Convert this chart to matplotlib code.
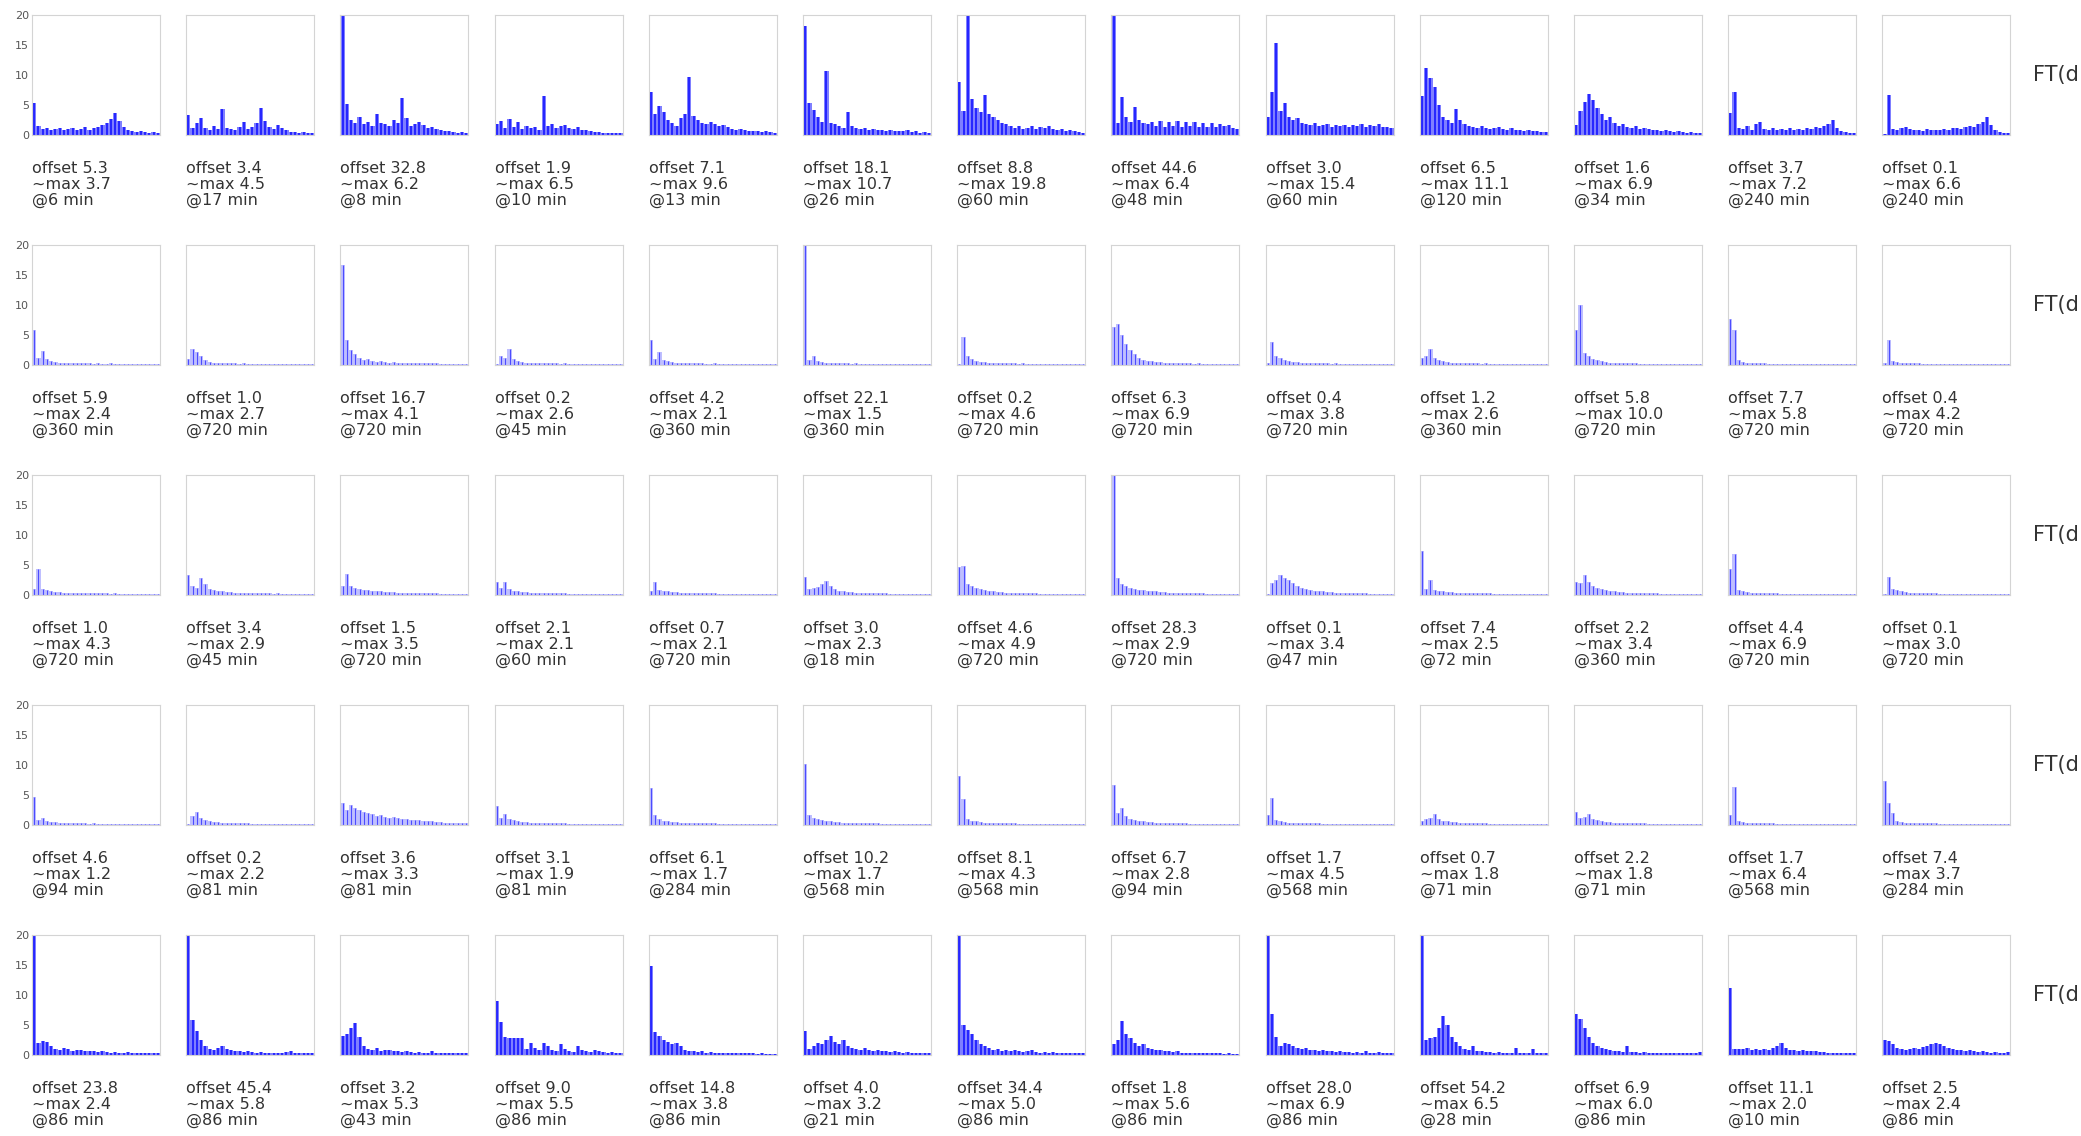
import matplotlib
matplotlib.use("Agg")
import matplotlib.pyplot as plt
import numpy as np

# label values per panel (rows x 13 columns)
offsets = [
    [5.3, 3.4, 32.8, 1.9, 7.1, 18.1, 8.8, 44.6, 3.0, 6.5, 1.6, 3.7, 0.1],
    [5.9, 1.0, 16.7, 0.2, 4.2, 22.1, 0.2, 6.3, 0.4, 1.2, 5.8, 7.7, 0.4],
    [1.0, 3.4, 1.5, 2.1, 0.7, 3.0, 4.6, 28.3, 0.1, 7.4, 2.2, 4.4, 0.1],
    [4.6, 0.2, 3.6, 3.1, 6.1, 10.2, 8.1, 6.7, 1.7, 0.7, 2.2, 1.7, 7.4],
    [23.8, 45.4, 3.2, 9.0, 14.8, 4.0, 34.4, 1.8, 28.0, 54.2, 6.9, 11.1, 2.5],
]
maxima = [
    [3.7, 4.5, 6.2, 6.5, 9.6, 10.7, 19.8, 6.4, 15.4, 11.1, 6.9, 7.2, 6.6],
    [2.4, 2.7, 4.1, 2.6, 2.1, 1.5, 4.6, 6.9, 3.8, 2.6, 10.0, 5.8, 4.2],
    [4.3, 2.9, 3.5, 2.1, 2.1, 2.3, 4.9, 2.9, 3.4, 2.5, 3.4, 6.9, 3.0],
    [1.2, 2.2, 3.3, 1.9, 1.7, 1.7, 4.3, 2.8, 4.5, 1.8, 1.8, 6.4, 3.7],
    [2.4, 5.8, 5.3, 5.5, 3.8, 3.2, 5.0, 5.6, 6.9, 6.5, 6.0, 2.0, 2.4],
]
periods = [
    [6, 17, 8, 10, 13, 26, 60, 48, 60, 120, 34, 240, 240],
    [360, 720, 720, 45, 360, 360, 720, 720, 720, 360, 720, 720, 720],
    [720, 45, 720, 60, 720, 18, 720, 720, 47, 72, 360, 720, 720],
    [94, 81, 81, 81, 284, 568, 568, 94, 568, 71, 71, 568, 284],
    [86, 86, 43, 86, 86, 21, 86, 86, 86, 28, 86, 10, 86],
]
row_labels = ["FT(d", "FT(d", "FT(d", "FT(d", "FT(d"]

# spectrum amplitudes (non-DC bins)
spec_r1 = [
    [1.5,1.0,1.2,0.9,1.0,1.1,0.8,1.0,1.2,0.9,1.0,1.3,0.9,1.1,1.4,1.6,2.0,2.6,3.7,2.4,1.3,0.9,0.6,0.5,0.6,0.5,0.4,0.5,0.4],
    [1.2,2.0,2.8,1.1,0.9,1.5,1.0,4.3,1.2,1.0,0.9,1.3,2.2,1.0,1.4,2.0,4.5,2.4,1.3,1.0,1.6,1.2,0.8,0.5,0.5,0.4,0.5,0.4,0.4],
    [5.2,2.5,2.0,3.0,1.8,2.2,1.5,3.5,2.0,1.8,1.5,2.5,2.0,6.2,2.8,1.5,1.8,2.2,1.6,1.2,1.4,1.0,0.8,0.6,0.6,0.5,0.4,0.5,0.4],
    [2.4,1.2,2.6,1.4,2.1,1.0,1.5,1.2,1.3,0.9,6.5,1.5,1.8,1.2,1.5,1.7,1.2,1.0,1.3,0.9,0.8,0.7,0.5,0.5,0.4,0.4,0.4,0.3,0.3],
    [3.5,4.9,3.8,2.5,2.0,1.5,2.8,3.5,9.6,3.2,2.5,2.0,1.8,2.2,1.8,1.5,1.6,1.3,1.0,0.9,1.0,0.8,0.6,0.7,0.6,0.5,0.6,0.5,0.4],
    [5.4,4.2,3.0,2.2,10.7,2.0,1.8,1.5,1.2,3.8,1.5,1.2,1.0,1.2,0.9,1.0,0.8,0.9,0.7,0.8,0.6,0.7,0.6,0.8,0.5,0.6,0.4,0.5,0.4],
    [4.0,19.8,6.0,4.5,3.8,6.7,3.5,3.0,2.5,2.0,1.8,1.5,1.2,1.5,1.0,1.2,1.5,1.0,1.3,1.1,1.5,1.0,0.8,1.0,0.7,0.8,0.6,0.5,0.4],
    [2.0,6.4,3.0,2.2,4.7,2.5,2.0,1.8,2.2,1.5,2.3,1.4,2.1,1.5,2.3,1.4,2.1,1.5,2.2,1.3,2.0,1.4,2.0,1.3,1.8,1.5,1.6,1.2,1.0],
    [7.2,15.4,4.0,5.3,3.0,2.5,2.8,2.0,1.8,1.6,2.0,1.5,1.6,1.8,1.4,1.6,1.5,1.7,1.4,1.6,1.5,1.8,1.4,1.6,1.5,1.8,1.3,1.4,1.2],
    [11.1,9.5,8.0,5.0,3.0,2.5,2.0,4.3,2.5,1.8,1.5,1.3,1.2,1.5,1.1,1.0,1.2,1.4,1.0,0.9,1.1,0.8,0.9,0.7,0.8,0.6,0.7,0.5,0.5],
    [4.0,5.5,6.9,5.8,4.5,3.5,2.5,3.0,2.0,1.5,1.8,1.3,1.2,1.5,1.0,1.2,1.0,0.9,0.8,0.7,0.8,0.6,0.5,0.6,0.5,0.4,0.5,0.4,0.4],
    [7.2,1.2,1.0,1.5,0.9,1.8,2.2,1.0,0.8,1.1,0.9,1.0,0.8,1.2,0.9,1.0,0.8,1.1,1.0,1.3,1.1,1.5,1.8,2.5,1.2,0.7,0.5,0.4,0.4],
    [6.6,1.0,0.8,1.2,1.4,1.0,0.8,0.9,0.7,1.0,0.8,0.9,0.8,1.0,0.9,1.1,1.2,1.0,1.3,1.5,1.4,1.8,2.2,3.0,1.6,0.8,0.5,0.4,0.3],
]
spec_r2 = [
    [1.2,2.4,1.0,0.7,0.5,0.4,0.4,0.3,0.3,0.3,0.3,0.3,0.3,0.2,0.3,0.2,0.2,0.3,0.2,0.2,0.2,0.2,0.2,0.2,0.2,0.2,0.2,0.2,0.2],
    [2.7,2.2,1.5,0.8,0.5,0.4,0.4,0.3,0.3,0.3,0.3,0.2,0.3,0.2,0.2,0.2,0.2,0.2,0.2,0.2,0.2,0.2,0.2,0.2,0.2,0.2,0.2,0.2,0.2],
    [4.1,2.5,1.8,1.2,0.8,1.0,0.7,0.5,0.6,0.5,0.4,0.5,0.4,0.4,0.3,0.4,0.3,0.3,0.3,0.3,0.3,0.3,0.2,0.2,0.2,0.2,0.2,0.2,0.2],
    [1.5,1.2,2.6,1.0,0.6,0.5,0.4,0.4,0.3,0.3,0.3,0.3,0.3,0.3,0.2,0.3,0.2,0.2,0.2,0.2,0.2,0.2,0.2,0.2,0.2,0.2,0.2,0.2,0.2],
    [1.0,2.1,0.8,0.6,0.5,0.4,0.4,0.3,0.3,0.3,0.3,0.3,0.2,0.2,0.3,0.2,0.2,0.2,0.2,0.2,0.2,0.2,0.2,0.2,0.2,0.2,0.2,0.2,0.2],
    [0.8,1.5,0.7,0.5,0.4,0.4,0.3,0.3,0.3,0.3,0.2,0.3,0.2,0.2,0.2,0.2,0.2,0.2,0.2,0.2,0.2,0.2,0.2,0.2,0.2,0.2,0.2,0.2,0.2],
    [4.6,1.5,1.0,0.7,0.5,0.5,0.4,0.4,0.3,0.3,0.3,0.3,0.3,0.2,0.3,0.2,0.2,0.2,0.2,0.2,0.2,0.2,0.2,0.2,0.2,0.2,0.2,0.2,0.2],
    [6.9,5.0,3.5,2.5,1.8,1.2,0.9,0.7,0.6,0.5,0.5,0.4,0.4,0.3,0.3,0.3,0.3,0.3,0.2,0.3,0.2,0.2,0.2,0.2,0.2,0.2,0.2,0.2,0.2],
    [3.8,1.5,1.2,0.8,0.6,0.5,0.5,0.4,0.4,0.3,0.3,0.3,0.3,0.3,0.2,0.3,0.2,0.2,0.2,0.2,0.2,0.2,0.2,0.2,0.2,0.2,0.2,0.2,0.2],
    [1.5,2.6,1.2,0.8,0.6,0.5,0.4,0.4,0.3,0.3,0.3,0.3,0.3,0.2,0.3,0.2,0.2,0.2,0.2,0.2,0.2,0.2,0.2,0.2,0.2,0.2,0.2,0.2,0.2],
    [10.0,2.0,1.5,1.0,0.8,0.6,0.5,0.4,0.4,0.3,0.3,0.3,0.3,0.3,0.2,0.2,0.2,0.2,0.2,0.2,0.2,0.2,0.2,0.2,0.2,0.2,0.2,0.2,0.2],
    [5.8,0.8,0.5,0.4,0.3,0.3,0.3,0.3,0.2,0.2,0.2,0.2,0.2,0.2,0.2,0.2,0.2,0.2,0.2,0.2,0.2,0.2,0.2,0.2,0.2,0.2,0.2,0.2,0.2],
    [4.2,0.7,0.5,0.4,0.3,0.3,0.3,0.3,0.2,0.2,0.2,0.2,0.2,0.2,0.2,0.2,0.2,0.2,0.2,0.2,0.2,0.2,0.2,0.2,0.2,0.2,0.2,0.2,0.2],
]
spec_r3 = [
    [4.3,1.0,0.8,0.6,0.5,0.5,0.4,0.4,0.3,0.4,0.3,0.3,0.3,0.3,0.3,0.3,0.3,0.2,0.3,0.2,0.2,0.2,0.2,0.2,0.2,0.2,0.2,0.2,0.2],
    [1.5,1.2,2.9,1.8,1.0,0.8,0.6,0.6,0.5,0.5,0.4,0.4,0.4,0.3,0.3,0.3,0.3,0.3,0.3,0.2,0.3,0.2,0.2,0.2,0.2,0.2,0.2,0.2,0.2],
    [3.5,1.5,1.2,1.0,0.9,0.8,0.7,0.6,0.6,0.5,0.5,0.5,0.4,0.4,0.4,0.3,0.3,0.3,0.3,0.3,0.3,0.3,0.2,0.2,0.2,0.2,0.2,0.2,0.2],
    [1.2,2.1,1.0,0.7,0.6,0.5,0.5,0.4,0.4,0.4,0.3,0.3,0.3,0.3,0.3,0.3,0.2,0.2,0.2,0.2,0.2,0.2,0.2,0.2,0.2,0.2,0.2,0.2,0.2],
    [2.1,0.8,0.7,0.6,0.5,0.5,0.4,0.4,0.4,0.3,0.3,0.3,0.3,0.3,0.3,0.2,0.2,0.2,0.2,0.2,0.2,0.2,0.2,0.2,0.2,0.2,0.2,0.2,0.2],
    [1.0,1.2,1.4,1.8,2.3,1.5,1.0,0.7,0.6,0.5,0.5,0.4,0.4,0.4,0.3,0.3,0.3,0.3,0.3,0.2,0.2,0.2,0.2,0.2,0.2,0.2,0.2,0.2,0.2],
    [4.9,1.8,1.5,1.2,1.0,0.8,0.7,0.6,0.5,0.5,0.4,0.4,0.4,0.3,0.3,0.3,0.3,0.3,0.2,0.2,0.2,0.2,0.2,0.2,0.2,0.2,0.2,0.2,0.2],
    [2.9,1.8,1.5,1.2,1.0,0.9,0.8,0.7,0.6,0.6,0.5,0.5,0.4,0.4,0.4,0.3,0.3,0.3,0.3,0.3,0.3,0.2,0.2,0.2,0.2,0.2,0.2,0.2,0.2],
    [2.0,2.5,3.4,2.8,2.5,2.0,1.5,1.2,1.0,0.8,0.7,0.6,0.6,0.5,0.5,0.4,0.4,0.4,0.3,0.3,0.3,0.3,0.3,0.2,0.2,0.2,0.2,0.2,0.2],
    [1.0,2.5,0.8,0.7,0.6,0.5,0.5,0.4,0.4,0.4,0.3,0.3,0.3,0.3,0.3,0.3,0.2,0.2,0.2,0.2,0.2,0.2,0.2,0.2,0.2,0.2,0.2,0.2,0.2],
    [2.0,3.4,2.2,1.5,1.2,1.0,0.8,0.7,0.6,0.5,0.5,0.4,0.4,0.4,0.3,0.3,0.3,0.3,0.3,0.2,0.2,0.2,0.2,0.2,0.2,0.2,0.2,0.2,0.2],
    [6.9,0.8,0.6,0.5,0.4,0.4,0.3,0.3,0.3,0.3,0.3,0.2,0.2,0.2,0.2,0.2,0.2,0.2,0.2,0.2,0.2,0.2,0.2,0.2,0.2,0.2,0.2,0.2,0.2],
    [3.0,1.0,0.8,0.6,0.5,0.4,0.4,0.3,0.3,0.3,0.3,0.3,0.2,0.2,0.2,0.2,0.2,0.2,0.2,0.2,0.2,0.2,0.2,0.2,0.2,0.2,0.2,0.2,0.2],
]
spec_r4 = [
    [0.8,1.2,0.7,0.5,0.5,0.4,0.4,0.3,0.3,0.3,0.3,0.3,0.2,0.3,0.2,0.2,0.2,0.2,0.2,0.2,0.2,0.2,0.2,0.2,0.2,0.2,0.2,0.2,0.2],
    [1.5,2.2,1.2,0.8,0.6,0.5,0.5,0.4,0.4,0.3,0.3,0.3,0.3,0.3,0.2,0.2,0.2,0.2,0.2,0.2,0.2,0.2,0.2,0.2,0.2,0.2,0.2,0.2,0.2],
    [2.5,3.3,2.8,2.5,2.2,2.0,1.8,1.5,1.6,1.4,1.2,1.3,1.1,1.0,1.0,0.9,0.8,0.8,0.7,0.6,0.6,0.5,0.5,0.4,0.4,0.4,0.3,0.3,0.3],
    [1.2,1.9,1.0,0.8,0.6,0.5,0.5,0.4,0.4,0.4,0.3,0.3,0.3,0.3,0.3,0.3,0.2,0.2,0.2,0.2,0.2,0.2,0.2,0.2,0.2,0.2,0.2,0.2,0.2],
    [1.7,1.0,0.7,0.6,0.5,0.5,0.4,0.4,0.4,0.3,0.3,0.3,0.3,0.3,0.3,0.2,0.2,0.2,0.2,0.2,0.2,0.2,0.2,0.2,0.2,0.2,0.2,0.2,0.2],
    [1.7,1.2,1.0,0.8,0.7,0.6,0.5,0.5,0.4,0.4,0.4,0.3,0.3,0.3,0.3,0.3,0.3,0.2,0.2,0.2,0.2,0.2,0.2,0.2,0.2,0.2,0.2,0.2,0.2],
    [4.3,1.0,0.7,0.6,0.5,0.4,0.4,0.4,0.3,0.3,0.3,0.3,0.3,0.2,0.2,0.2,0.2,0.2,0.2,0.2,0.2,0.2,0.2,0.2,0.2,0.2,0.2,0.2,0.2],
    [2.0,2.8,1.5,1.0,0.8,0.7,0.6,0.5,0.5,0.4,0.4,0.4,0.3,0.3,0.3,0.3,0.3,0.2,0.2,0.2,0.2,0.2,0.2,0.2,0.2,0.2,0.2,0.2,0.2],
    [4.5,0.8,0.6,0.5,0.4,0.4,0.4,0.3,0.3,0.3,0.3,0.3,0.2,0.2,0.2,0.2,0.2,0.2,0.2,0.2,0.2,0.2,0.2,0.2,0.2,0.2,0.2,0.2,0.2],
    [1.0,1.2,1.8,1.0,0.7,0.6,0.5,0.5,0.4,0.4,0.3,0.3,0.3,0.3,0.3,0.2,0.2,0.2,0.2,0.2,0.2,0.2,0.2,0.2,0.2,0.2,0.2,0.2,0.2],
    [1.2,1.4,1.8,1.0,0.8,0.6,0.5,0.5,0.4,0.4,0.4,0.3,0.3,0.3,0.3,0.3,0.2,0.2,0.2,0.2,0.2,0.2,0.2,0.2,0.2,0.2,0.2,0.2,0.2],
    [6.4,0.6,0.5,0.4,0.4,0.3,0.3,0.3,0.3,0.3,0.2,0.2,0.2,0.2,0.2,0.2,0.2,0.2,0.2,0.2,0.2,0.2,0.2,0.2,0.2,0.2,0.2,0.2,0.2],
    [3.7,2.0,0.7,0.5,0.4,0.4,0.4,0.3,0.3,0.3,0.3,0.3,0.2,0.2,0.2,0.2,0.2,0.2,0.2,0.2,0.2,0.2,0.2,0.2,0.2,0.2,0.2,0.2,0.2],
]
spec_r5 = [
    [2.0,2.4,2.2,1.5,1.0,0.8,1.2,1.0,0.7,0.9,0.8,0.6,0.7,0.6,0.5,0.6,0.5,0.4,0.5,0.4,0.4,0.5,0.3,0.4,0.3,0.4,0.3,0.3,0.4],
    [5.8,4.0,2.5,1.5,1.0,0.8,1.2,1.5,1.0,0.8,0.7,0.6,0.5,0.6,0.5,0.4,0.5,0.4,0.4,0.3,0.4,0.3,0.5,0.6,0.4,0.3,0.3,0.3,0.3],
    [3.5,4.5,5.3,3.0,1.5,1.0,0.8,1.2,0.7,0.9,0.8,0.6,0.7,0.5,0.6,0.5,0.4,0.5,0.4,0.4,0.6,0.4,0.3,0.4,0.3,0.3,0.3,0.3,0.3],
    [5.5,3.0,2.8,2.9,2.8,2.8,1.0,2.0,1.2,0.8,2.0,1.5,0.8,0.7,1.8,1.0,0.6,0.5,1.5,0.8,0.6,0.5,0.8,0.6,0.5,0.4,0.5,0.4,0.4],
    [3.8,3.2,2.5,2.2,1.8,2.0,1.5,0.8,0.6,0.7,0.5,0.6,0.4,0.5,0.4,0.4,0.3,0.4,0.3,0.3,0.3,0.3,0.3,0.3,0.2,0.3,0.2,0.2,0.2],
    [1.0,1.5,2.0,1.8,2.5,3.2,2.2,1.8,2.5,1.5,1.2,1.0,0.8,1.2,0.9,0.7,0.8,0.6,0.7,0.5,0.6,0.5,0.4,0.5,0.4,0.4,0.3,0.4,0.3],
    [5.0,4.2,3.5,2.5,1.8,1.5,1.2,0.8,1.0,0.7,0.8,0.6,0.9,0.7,0.5,0.6,0.8,0.5,0.4,0.5,0.4,0.5,0.4,0.3,0.4,0.3,0.3,0.3,0.3],
    [2.5,5.6,3.5,2.8,2.0,1.5,1.8,1.2,1.0,0.8,0.9,0.7,0.6,0.5,0.6,0.4,0.4,0.3,0.3,0.3,0.3,0.3,0.3,0.3,0.3,0.2,0.3,0.2,0.2],
    [6.9,3.0,1.5,2.0,1.8,1.5,1.2,1.0,1.1,0.8,0.9,0.7,0.8,0.6,0.7,0.5,0.6,0.5,0.5,0.4,0.5,0.4,0.6,0.4,0.4,0.5,0.3,0.4,0.3],
    [2.5,2.8,3.0,4.5,6.5,5.0,3.0,2.2,1.5,1.0,0.8,1.5,0.7,0.6,0.5,0.5,0.4,0.5,0.4,0.4,0.4,1.2,0.4,0.3,0.4,1.0,0.3,0.3,0.3],
    [6.0,4.5,3.0,2.0,1.5,1.2,1.0,0.8,0.7,0.6,0.5,1.5,0.5,0.5,0.4,0.5,0.4,0.4,0.3,0.4,0.3,0.3,0.4,0.3,0.3,0.3,0.3,0.3,0.5],
    [1.0,1.0,1.0,1.1,0.9,1.0,0.9,1.0,0.8,1.2,1.5,2.0,1.2,0.9,0.8,0.7,0.8,0.7,0.6,0.6,0.5,0.5,0.4,0.4,0.3,0.3,0.3,0.3,0.3],
    [2.4,1.8,1.2,1.0,0.9,1.0,1.2,1.0,1.3,1.5,1.8,2.0,1.8,1.5,1.2,1.0,0.9,0.8,0.7,0.8,0.6,0.5,0.6,0.5,0.4,0.5,0.4,0.4,0.5],
]
spectra = [spec_r1, spec_r2, spec_r3, spec_r4, spec_r5]

W, H = 2081, 1136
fig = plt.figure(figsize=(W / 100, H / 100), dpi=100)

x0, dx, aw = 32, 154.2, 128
y0, dy, ah = 15, 230, 120

for r in range(5):
    faint = r in (1, 2, 3)
    for c in range(13):
        left = (x0 + c * dx) / W
        bottom = 1 - (y0 + r * dy + ah) / H
        ax = fig.add_axes([left, bottom, aw / W, ah / H])
        vals = [offsets[r][c]] + spectra[r][c]
        xs = np.arange(len(vals))
        ax.bar(xs, vals, width=1.0, color="blue", alpha=0.25 if faint else 0.5, lw=0)
        ax.vlines(xs, 0, vals, color="blue", lw=0.8 if faint else 1.1,
                  alpha=0.6 if faint else 0.9)
        ax.set_xlim(-0.5, len(vals) - 0.5)
        ax.set_ylim(0, 20)
        for s in ax.spines.values():
            s.set_color("#d4d4d4")
            s.set_linewidth(0.8)
        ax.set_xticks([])
        if c == 0:
            ax.set_yticks([0, 5, 10, 15, 20])
            ax.tick_params(axis="y", length=0, pad=2, labelsize=8, labelcolor="#555555")
        else:
            ax.set_yticks([])
        txt = f"offset {offsets[r][c]:.1f}\n~max {maxima[r][c]:.1f}\n@{periods[r][c]} min"
        ax.text(0.0, -0.22, txt, transform=ax.transAxes, ha="left", va="top",
                fontsize=11.5, color="#333333", linespacing=1.05)
    fig.text(2033 / W, 1 - (y0 + r * dy + ah / 2) / H, row_labels[r],
             ha="left", va="center", fontsize=15, color="#333333")

fig.savefig("out.png", dpi=100)
